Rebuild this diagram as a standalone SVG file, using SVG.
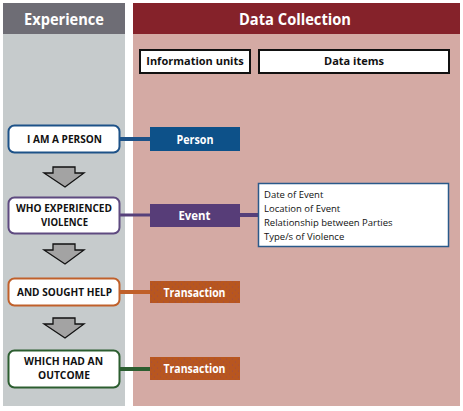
<svg xmlns="http://www.w3.org/2000/svg" width="463" height="411" viewBox="0 0 463 411">
<style>
.hdr{font-family:"Open Sans","Noto Sans",sans-serif;font-weight:bold;font-size:16.5px;fill:#fff;text-anchor:middle}
.node{fill:#fff;stroke-width:2}
.nt{font-family:"Open Sans","Noto Sans",sans-serif;font-weight:bold;font-size:11px;fill:#111;text-anchor:middle}
.nt2{font-family:"Open Sans","Noto Sans",sans-serif;font-weight:bold;font-size:10px;fill:#111;text-anchor:middle}
.lt{font-family:"Open Sans","Noto Sans",sans-serif;font-weight:bold;font-size:13px;fill:#fff;text-anchor:middle}
.ct{font-family:"Open Sans","Noto Sans",sans-serif;font-weight:bold;font-size:11px;fill:#111;text-anchor:middle}
.dt{font-family:"Open Sans","Noto Sans",sans-serif;font-size:9.5px;fill:#111}
.arr{fill:#a3a3a3;stroke:#111;stroke-width:1.3;stroke-linejoin:miter}
.col{fill:#fff;stroke:#111;stroke-width:2}
</style>
<defs>
<pattern id="dots" width="6" height="6" patternUnits="userSpaceOnUse">
<rect width="6" height="6" fill="#b8561f"/>
<circle cx="1.5" cy="2" r="0.6" fill="#9a4a50"/>
<circle cx="4.5" cy="5" r="0.6" fill="#9a4a50"/>
</pattern>
</defs>
<rect width="463" height="411" fill="#fff"/>
<g id="background">
<rect x="3" y="3" width="122" height="403" fill="#c6cbcc"/>
<rect x="3" y="3" width="122" height="31" fill="#6e6d75"/>
<rect x="133" y="3" width="327" height="403" fill="#d4aaa4"/>
<rect x="133" y="3" width="327" height="31" fill="#85222a"/>
<text class="hdr" x="64" y="25" textLength="80" lengthAdjust="spacingAndGlyphs">Experience</text>
<text class="hdr" x="295" y="25" textLength="112" lengthAdjust="spacingAndGlyphs">Data Collection</text>
</g>
<g id="col-info-units">
<rect x="140" y="50" width="110" height="23" fill="#999" transform="translate(1,1)"/>
<rect class="col" x="140" y="50" width="110" height="23"/>
<text class="ct" x="195" y="65">Information units</text>
</g>
<g id="col-data-items">
<rect x="259" y="50" width="190" height="23" fill="#999" transform="translate(1,1)"/>
<rect class="col" x="259" y="50" width="190" height="23"/>
<text class="ct" x="354" y="65">Data items</text>
</g>
<g id="connectors">
<line x1="120" y1="139" x2="150" y2="139" stroke="#1d5288" stroke-width="4"/>
<line x1="120" y1="215" x2="150" y2="215" stroke="#56407a" stroke-width="3"/>
<line x1="240" y1="215" x2="259" y2="215" stroke="#56407a" stroke-width="4"/>
<line x1="120" y1="292" x2="150" y2="292" stroke="#c0602a" stroke-width="4"/>
<line x1="120" y1="369" x2="150" y2="369" stroke="#2c5e30" stroke-width="4"/>
<polygon class="arr" points="53,167 75,167 75,173 84,173 65,187 44,173 53,173"/>
<polygon class="arr" points="53,244 75,244 75,250 84,250 65,264 44,250 53,250"/>
<polygon class="arr" points="53,318 75,318 75,324 84,324 65,338 44,324 53,324"/>
</g>
<g id="node-person">
<rect class="node" x="8.5" y="125.5" width="111" height="27" rx="6" stroke="#1d5288"/>
<text class="nt" x="64.5" y="143" textLength="75" lengthAdjust="spacingAndGlyphs">I AM A PERSON</text>
</g>
<g id="node-violence">
<rect class="node" x="8.5" y="197.5" width="111" height="36" rx="6" stroke="#5e4a80"/>
<text class="nt2" x="64" y="212" textLength="96" lengthAdjust="spacingAndGlyphs">WHO EXPERIENCED</text>
<text class="nt2" x="64.5" y="226" textLength="47" lengthAdjust="spacingAndGlyphs">VIOLENCE</text>
</g>
<g id="node-help">
<rect class="node" x="8.5" y="278.5" width="111" height="27" rx="6" stroke="#c0602a"/>
<text class="nt" x="64.5" y="296" textLength="95" lengthAdjust="spacingAndGlyphs">AND SOUGHT HELP</text>
</g>
<g id="node-outcome">
<rect class="node" x="8.5" y="350.5" width="111" height="37" rx="6" stroke="#2c5e30"/>
<text class="nt2" x="63.5" y="365" textLength="79" lengthAdjust="spacingAndGlyphs">WHICH HAD AN</text>
<text class="nt2" x="64" y="379" textLength="52" lengthAdjust="spacingAndGlyphs">OUTCOME</text>
</g>
<g id="unit-person">
<rect x="150" y="127" width="90" height="24" fill="#0d5189"/>
<text class="lt" x="195" y="143.5" textLength="37" lengthAdjust="spacingAndGlyphs">Person</text>
</g>
<g id="unit-event">
<rect x="150" y="204" width="90" height="23" fill="#573d78"/>
<text class="lt" x="194.5" y="220" textLength="32" lengthAdjust="spacingAndGlyphs">Event</text>
</g>
<g id="unit-transaction-1">
<rect x="150" y="281" width="90" height="22" fill="url(#dots)"/>
<text class="lt" x="194.5" y="296.5" textLength="62" lengthAdjust="spacingAndGlyphs">Transaction</text>
</g>
<g id="unit-transaction-2">
<rect x="150" y="357" width="90" height="23" fill="url(#dots)"/>
<text class="lt" x="194.5" y="373" textLength="62" lengthAdjust="spacingAndGlyphs">Transaction</text>
</g>
<g id="data-items-event">
<rect x="258.5" y="183.5" width="190" height="63" fill="#fff" stroke="#2a5a8a" stroke-width="1.5"/>
<text class="dt" x="264" y="198">Date of Event</text>
<text class="dt" x="264" y="212">Location of Event</text>
<text class="dt" x="264" y="226">Relationship between Parties</text>
<text class="dt" x="264" y="240">Type/s of Violence</text>
</g>
</svg>
